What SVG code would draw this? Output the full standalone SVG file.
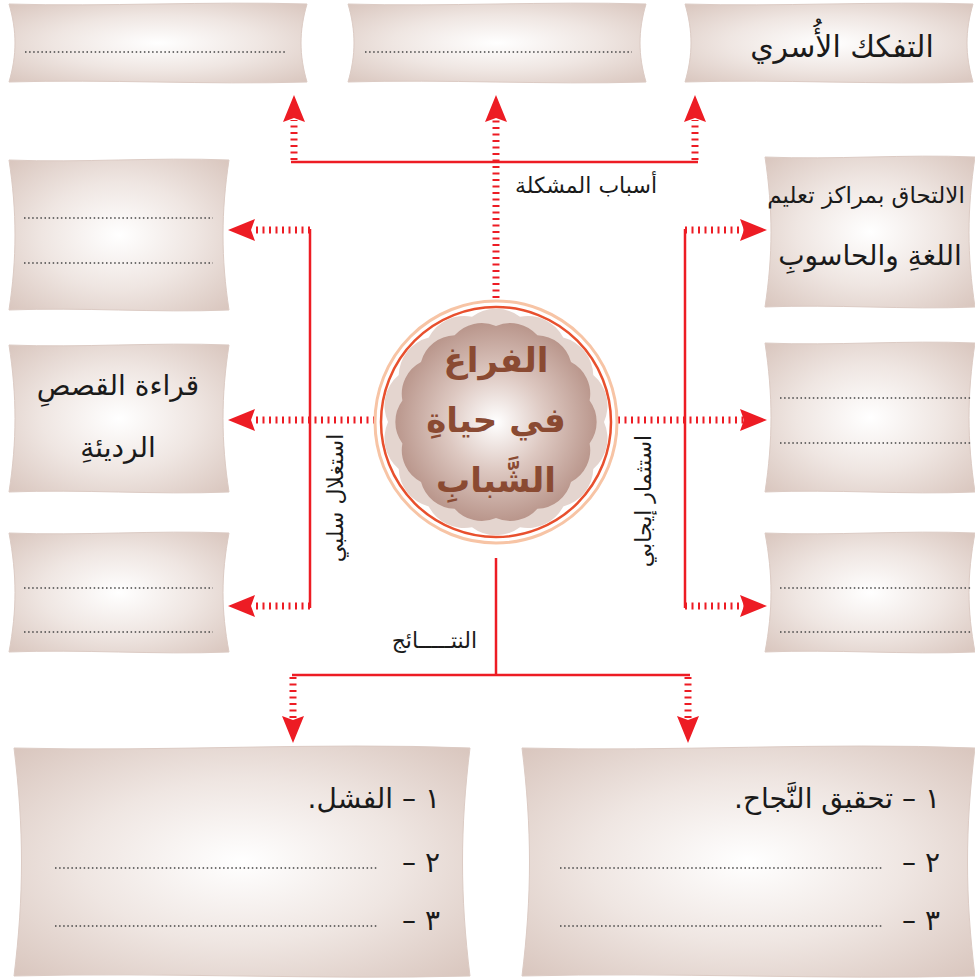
<svg xmlns="http://www.w3.org/2000/svg" width="975" height="979" viewBox="0 0 975 979">
<defs>
<radialGradient id="bg" cx="0.5" cy="0.5" r="0.7">
<stop offset="0" stop-color="#ffffff"/>
<stop offset="0.5" stop-color="#efe6e2"/>
<stop offset="1" stop-color="#d9c6be"/>
</radialGradient>
<radialGradient id="cg" cx="0.5" cy="0.5" r="0.55">
<stop offset="0" stop-color="#ffffff"/>
<stop offset="0.45" stop-color="#ddc8c1"/>
<stop offset="1" stop-color="#b38d82"/>
</radialGradient>
<polygon id="ah" points="0,0 -11,27 0,23 11,27" fill="#ed1c24"/>
</defs>
<style>
.box{fill:url(#bg);stroke:#dccbc4;stroke-width:1}
.dots{stroke:#444;stroke-width:1.6;stroke-dasharray:1.5 2.6;fill:none}
.t{font-family:"DejaVu Sans",sans-serif;fill:#1a1a1a}
.solid{stroke:#ed1c24;stroke-width:2.5;fill:none}
.dh{stroke:#ed1c24;stroke-width:7;stroke-dasharray:2 4.5;fill:none}
.lab{font-family:"DejaVu Sans",sans-serif;font-size:22px;fill:#1a1a1a}
</style>
<g id="connectors">
<line class="solid" x1="291" y1="162" x2="698" y2="162"/>
<line class="dh" x1="294" y1="160" x2="294" y2="120"/>
<line class="dh" x1="496" y1="298" x2="496" y2="120"/>
<line class="dh" x1="695" y1="160" x2="695" y2="120"/>
<use href="#ah" x="294" y="95"/>
<use href="#ah" x="496" y="95"/>
<use href="#ah" x="695" y="95"/>
<line class="solid" x1="310" y1="229" x2="310" y2="608"/>
<line class="dh" x1="310" y1="230" x2="252" y2="230"/>
<line class="dh" x1="375" y1="420" x2="252" y2="420"/>
<line class="dh" x1="310" y1="606" x2="252" y2="606"/>
<use href="#ah" transform="translate(228,230) rotate(-90)"/>
<use href="#ah" transform="translate(228,420) rotate(-90)"/>
<use href="#ah" transform="translate(228,606) rotate(-90)"/>
<line class="solid" x1="685" y1="229" x2="685" y2="608"/>
<line class="dh" x1="685" y1="230" x2="744" y2="230"/>
<line class="dh" x1="618" y1="420" x2="744" y2="420"/>
<line class="dh" x1="685" y1="606" x2="744" y2="606"/>
<use href="#ah" transform="translate(767,230) rotate(90)"/>
<use href="#ah" transform="translate(767,420) rotate(90)"/>
<use href="#ah" transform="translate(767,606) rotate(90)"/>
<line class="solid" x1="496" y1="558" x2="496" y2="676"/>
<line class="solid" x1="292" y1="675" x2="690" y2="675"/>
<line class="dh" x1="293" y1="677" x2="293" y2="720"/>
<line class="dh" x1="688" y1="677" x2="688" y2="720"/>
<use href="#ah" transform="translate(293,743) rotate(180)"/>
<use href="#ah" transform="translate(688,743) rotate(180)"/>
<text class="lab" x="657" y="193" direction="rtl" text-anchor="start">أسباب المشكلة</text>
<text class="lab" x="477" y="648" direction="rtl" text-anchor="start">النتـــــائج</text>
<text class="lab" transform="translate(343,498) rotate(-90)" text-anchor="middle">استغلال سلبي</text>
<text class="lab" transform="translate(651,501) rotate(-90)" text-anchor="middle">استثمار إيجابي</text>
</g>
<g id="center">
<circle cx="496" cy="422" r="121" fill="none" stroke="#f7c4a5" stroke-width="3"/>
<circle cx="496" cy="422" r="115" fill="#fff" stroke="#e8502e" stroke-width="2.5"/>
<path fill="#e4d5cf" d="M604 422 A40 40 0 0 1 593.3 468.9 A40 40 0 0 1 563.3 506.4 A40 40 0 0 1 520 527.3 A40 40 0 0 1 472 527.3 A40 40 0 0 1 428.7 506.4 A40 40 0 0 1 398.7 468.9 A40 40 0 0 1 388 422 A40 40 0 0 1 398.7 375.1 A40 40 0 0 1 428.7 337.6 A40 40 0 0 1 472 316.7 A40 40 0 0 1 520 316.7 A40 40 0 0 1 563.3 337.6 A40 40 0 0 1 593.3 375.1 A40 40 0 0 1 604 422Z"/>
<path fill="url(#cg)" d="M589.6 443.4 A36 36 0 0 1 571 482 A36 36 0 0 1 537.4 508.7 A36 36 0 0 1 496 518 A36 36 0 0 1 454.6 508.7 A36 36 0 0 1 421 482 A36 36 0 0 1 402.4 443.4 A36 36 0 0 1 402.4 400.6 A36 36 0 0 1 421 362 A36 36 0 0 1 454.6 335.3 A36 36 0 0 1 496 326 A36 36 0 0 1 537.4 335.3 A36 36 0 0 1 571 362 A36 36 0 0 1 589.6 400.6 A36 36 0 0 1 589.6 443.4Z"/>
<g font-family="DejaVu Sans, sans-serif" font-size="34" font-weight="bold" fill="#8a4a32" text-anchor="middle">
<text x="496" y="372">الفراغ</text>
<text x="496" y="432">في حياةِ</text>
<text x="496" y="492">الشَّبابِ</text>
</g>
</g>
<g id="top1">
<path class="box" d="M9 4 C107 7,206 1,307 4 C299 31,299 55,307 82 C206 85,107 79,9 82 C17 55,17 31,9 4Z"/>
<line class="dots" x1="25" y1="52" x2="287" y2="52"/>
</g>
<g id="top2">
<path class="box" d="M348 4 C446 7,545 1,646 4 C638 31,638 55,646 82 C545 85,446 79,348 82 C356 55,356 31,348 4Z"/>
<line class="dots" x1="365" y1="52" x2="632" y2="52"/>
</g>
<g id="top3">
<path class="box" d="M685 4 C780 7,878 1,973 4 C965 31,965 55,973 82 C878 85,780 79,685 82 C693 55,693 31,685 4Z"/>
<text class="t" x="842" y="57" font-size="30" text-anchor="middle">التفكك الأُسري</text>
</g>
<g id="left1">
<path class="box" d="M9 160 C82 163,155 157,229 160 C221 212,221 258,229 310 C155 313,82 307,9 310 C17 258,17 212,9 160Z"/>
<line class="dots" x1="24" y1="218" x2="213" y2="218"/>
<line class="dots" x1="24" y1="263" x2="213" y2="263"/>
</g>
<g id="left2">
<path class="box" d="M9 345 C82 348,155 342,229 345 C221 396,221 441,229 492 C155 495,82 489,9 492 C17 441,17 396,9 345Z"/>
<text class="t" x="118" y="395" font-size="28" text-anchor="middle">قراءة القصصِ</text>
<text class="t" x="118" y="457" font-size="28" text-anchor="middle">الرديئةِ</text>
</g>
<g id="left3">
<path class="box" d="M9 533 C82 536,155 530,229 533 C221 575,221 610,229 652 C155 655,82 649,9 652 C17 610,17 575,9 533Z"/>
<line class="dots" x1="24" y1="588" x2="213" y2="588"/>
<line class="dots" x1="24" y1="632" x2="213" y2="632"/>
</g>
<g id="right1">
<path class="box" d="M765 157 C835 160,905 154,975 157 C967 210,967 255,975 307 C905 310,835 304,765 307 C773 255,773 210,765 157Z"/>
<text class="t" x="866" y="203" font-size="23" text-anchor="middle">الالتحاق بمراكز تعليم</text>
<text class="t" x="870" y="265" font-size="28" text-anchor="middle">اللغةِ والحاسوبِ</text>
</g>
<g id="right2">
<path class="box" d="M765 343 C835 346,905 340,975 343 C967 395,967 440,975 492 C905 495,835 489,765 492 C773 440,773 395,765 343Z"/>
<line class="dots" x1="780" y1="398" x2="972" y2="398"/>
<line class="dots" x1="780" y1="443" x2="972" y2="443"/>
</g>
<g id="right3">
<path class="box" d="M765 533 C835 536,905 530,975 533 C967 575,967 610,975 652 C905 655,835 649,765 652 C773 610,773 575,765 533Z"/>
<line class="dots" x1="780" y1="588" x2="972" y2="588"/>
<line class="dots" x1="780" y1="632" x2="972" y2="632"/>
</g>
<g id="bottom1">
<path class="box" d="M14 748 C166 752,318 742,470 748 C460 828,460 896,470 976 C318 980,166 972,14 976 C24 896,24 828,14 748Z"/>
<text class="t" x="440" y="808" font-size="28" direction="rtl" text-anchor="start">١ –  الفشل.</text>
<text class="t" x="440" y="872" font-size="28" direction="rtl" text-anchor="start">٢ –</text>
<line class="dots" x1="55" y1="868" x2="378" y2="868"/>
<text class="t" x="440" y="930" font-size="28" direction="rtl" text-anchor="start">٣ –</text>
<line class="dots" x1="55" y1="926" x2="378" y2="926"/>
</g>
<g id="bottom2">
<path class="box" d="M522 748 C673 752,824 742,975 748 C965 828,965 896,975 976 C824 980,673 972,522 976 C532 896,532 828,522 748Z"/>
<text class="t" x="940" y="808" font-size="28" direction="rtl" text-anchor="start">١ –  تحقيق النَّجاح.</text>
<text class="t" x="940" y="872" font-size="28" direction="rtl" text-anchor="start">٢ –</text>
<line class="dots" x1="560" y1="868" x2="882" y2="868"/>
<text class="t" x="940" y="930" font-size="28" direction="rtl" text-anchor="start">٣ –</text>
<line class="dots" x1="560" y1="926" x2="882" y2="926"/>
</g>
</svg>
